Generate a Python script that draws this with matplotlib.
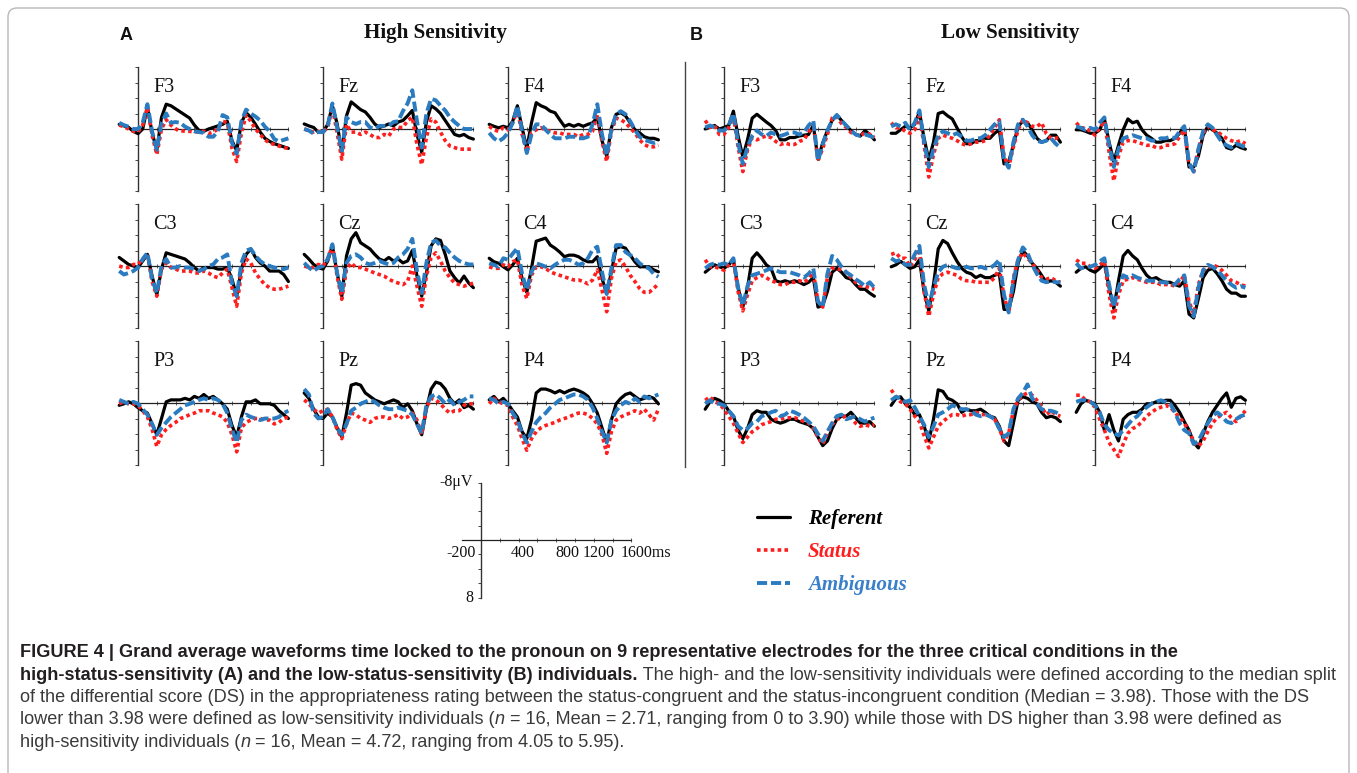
import matplotlib
matplotlib.use('Agg')
import matplotlib.pyplot as plt
from matplotlib.patches import FancyBboxPatch
from matplotlib.lines import Line2D
from matplotlib.transforms import IdentityTransform
from matplotlib.font_manager import FontProperties

W, H = 1357, 773
fig = plt.figure(figsize=(W / 100, H / 100), dpi=100)

# ---------------- data (µV, negative plotted upward) ----------------
TIMES = list(range(-200, 1601, 50))

A_F3_REF = [-0.6,-0.4,-0.2,0.3,0.6, 0.0,-2.8,0.5,2.7,-1.5, -3.2,-3.0,-2.6,-2.2,-1.8, -1.4,-0.5,0.2,0.3,0.0, -0.2,-0.4,-0.6,-1.0,1.5, 2.8,-0.8,-2.1,-1.5,-0.6, 0.4,1.2,1.6,1.9,2.1, 2.3,2.5]
A_F3_STA = [-0.5,-0.3,0.0,0.3,0.4, -0.5,-2.8,0.8,3.3,0.0, -1.2,-0.5,0.0,0.2,0.3, 0.3,0.4,0.3,0.3,0.6, 0.4,0.0,-1.0,-0.8,2.5, 4.2,0.5,-1.8,-1.0,0.0, 0.7,1.4,1.8,2.0,2.2, 2.4,2.5]
A_F3_AMB = [-0.8,-0.5,-0.3,0.0,0.0, -0.8,-3.2,0.3,2.7,-0.8, -2.0,-0.8,-0.9,-0.8,-0.3, 0.0,0.3,0.4,0.5,1.0, 1.0,0.3,-1.8,-1.5,1.8, 3.2,-1.0,-2.5,-2.0,-1.6, -1.1,-0.3,0.3,1.3,1.6, 1.4,1.2]

A_FZ_REF = [-0.65,-0.4,-0.2,0.4,0.4, -0.6,-3.0,-0.7,3.0,-1.7, -3.5,-3.0,-2.5,-2.2,-1.5, -0.65,-0.2,-0.4,-0.65,-0.4, -0.9,-1.1,-1.7,-2.4,0.7, 3.0,-0.9,-3.0,-2.6,-2.0, -1.1,-0.2,0.7,0.9,0.7, 1.1,1.3]
A_FZ_STA = [0.0,0.2,0.4,0.3,0.4, -0.2,-2.8,0.5,3.9,-0.6, 0.4,0.4,0.7,0.4,0.7, 1.1,1.1,0.7,0.9,0.0, -0.2,-0.2,-1.1,-1.5,2.0, 4.6,1.1,-1.3,-0.9,0.4, 1.5,2.2,2.4,2.6,2.6, 2.6,2.6]
A_FZ_AMB = [0.0,0.2,0.6,0.4,0.4, -0.4,-3.3,-0.2,2.8,-1.5, -0.9,-0.65,-0.9,-0.9,-0.2, 0.0,-0.4,-0.4,-0.4,-0.9, -1.0,-2.3,-3.3,-5.0,-1.0, 2.4,-2.0,-3.9,-3.7,-3.0, -2.4,-1.5,-0.9,-0.4,0.0, 0.0,0.0]

A_F4_REF = [-0.6,-0.35,-0.15,-0.35,-0.15, -1.0,-3.0,-0.15,2.5,-0.8, -3.4,-3.0,-2.75,-2.3,-2.1, -1.2,-0.35,-0.6,-0.35,-0.6, -0.35,-0.6,-0.8,-1.5,1.5, 3.5,-0.15,-1.9,-2.1,-1.7, -0.8,0.1,0.5,1.0,1.2, 1.2,1.4]
A_F4_STA = [-0.35,0.1,0.3,-0.15,0.1, -0.8,-2.5,0.7,2.9,0.5, 0.1,-0.15,0.1,0.3,0.5, 0.5,0.7,0.7,0.7,1.0, 0.7,0.7,0.3,-1.9,1.6, 4.2,0.3,-1.4,-1.2,-0.8, -0.15,0.5,1.4,2.0,2.3, 2.3,2.1]
A_F4_AMB = [0.5,1.2,1.6,1.2,0.5, -0.8,-3.0,0.3,3.1,0.7, -0.6,-0.6,0.1,0.7,1.2, 1.2,1.2,1.0,1.0,1.2, 1.2,1.0,-0.6,-3.2,0.7, 3.4,0.1,-1.9,-2.3,-1.9, -1.0,0.1,1.0,1.4,1.6, 1.8,1.6]

A_C3_REF = [-1.1,-0.65,-0.2,0.0,0.2, -0.65,-1.5,1.3,3.7,0.4, -1.7,-1.5,-1.3,-1.1,-0.9, -0.4,0.2,0.65,0.2,0.2, 0.2,0.4,0.4,0.2,1.7, 3.9,0.4,-1.5,-2.2,-1.1, -0.4,0.0,0.65,0.65,0.65, 1.1,2.0]
A_C3_STA = [0.0,0.2,0.2,-0.2,-0.2, -0.9,-1.5,2.0,3.9,0.4, -0.4,0.2,0.4,0.65,0.65, 0.65,0.9,0.9,0.65,0.9, 1.3,1.5,0.9,0.4,2.8, 5.2,0.9,-0.9,-0.4,0.9, 1.7,2.4,2.8,3.0,3.0, 2.8,2.6]
A_C3_AMB = [0.65,1.1,0.9,0.65,0.2, -0.9,-1.7,1.7,3.5,0.0, -0.9,0.2,0.2,0.0,0.2, 0.2,0.4,0.65,0.4,0.0, -0.2,-0.9,-1.1,-1.5,2.2, 3.9,-0.4,-2.0,-2.2,-1.3, -0.65,-0.2,0.0,0.2,0.4, 0.4,0.2]

A_CZ_REF = [-1.5,-0.9,-0.2,0.2,0.4, -0.65,-2.6,0.9,3.9,-1.3, -3.5,-4.3,-3.0,-2.6,-2.2, -1.5,-0.9,-0.65,-1.1,-0.65, -0.9,-0.4,-0.65,-2.0,1.3, 3.9,0.9,-2.6,-3.5,-3.3, -1.5,0.65,1.5,2.2,1.3, 2.2,2.8]
A_CZ_STA = [0.0,0.2,0.2,-0.2,0.0, -0.9,-2.6,1.3,4.3,0.4, -0.4,0.2,0.2,0.4,0.65, 0.9,1.1,1.3,1.7,2.0, 2.2,2.4,2.0,0.0,2.6, 5.2,1.3,-1.1,-1.7,-0.65, 0.65,1.5,2.2,2.4,2.6, 2.4,2.2]
A_CZ_AMB = [-0.4,0.2,0.65,0.2,0.0, -0.9,-2.8,0.9,3.5,-0.4, -1.3,-1.5,-1.1,-0.4,-0.2, -0.4,-0.65,-0.4,-0.2,-0.4, -1.1,-1.5,-2.2,-3.5,0.65, 3.5,-0.4,-3.0,-3.3,-2.6, -2.4,-1.7,-1.1,-0.65,-0.4, -0.2,-0.2]

A_C4_REF = [-1.0,-0.55,-0.35,0.1,0.5, -0.15,-1.0,1.6,3.4,0.3, -3.2,-3.4,-3.6,-2.7,-2.3, -1.8,-1.2,-1.4,-1.4,-1.2, -0.8,-0.55,-0.55,-1.2,1.6, 3.6,0.75,-2.3,-2.5,-2.3, -1.4,-0.55,0.1,0.1,0.1, 0.5,0.75]
A_C4_STA = [0.1,0.3,0.3,-0.15,0.1, -0.55,-0.8,2.5,4.2,1.2, 0.1,0.1,0.3,0.75,1.0, 1.2,1.4,1.6,1.8,1.8, 2.0,2.3,1.8,0.5,3.1, 5.9,1.6,-0.55,-0.8,0.1, 1.2,2.0,2.9,3.4,3.4, 2.9,2.3]
A_C4_AMB = [-0.35,-0.15,0.1,-1.0,-0.8, -1.6,-2.3,1.0,3.1,0.75, -0.35,-0.15,0.1,0.3,-0.15, -0.55,-0.8,-0.8,-0.55,-0.15, -0.35,-1.0,-2.1,-2.5,0.75, 3.6,0.3,-2.7,-2.7,-1.8, -1.4,-1.0,-0.35,0.1,0.3, 1.0,1.4]

A_P3_REF = [0.3,0.1,-0.15,0.1,0.6, 1.0,1.3,2.7,4.1,2.0, -0.15,-0.4,-0.4,-0.4,-0.6, -0.4,-0.85,-0.6,-1.1,-0.6, -0.85,-0.4,0.1,0.8,2.9, 4.4,1.8,-0.15,-0.15,-0.4, 0.1,0.1,0.1,0.3,1.0, 1.5,2.0]
A_P3_STA = [0.1,-0.15,0.1,0.1,0.3, 1.0,1.8,3.4,5.6,4.1, 3.4,2.9,2.5,2.0,1.8, 1.5,1.3,1.0,1.0,1.0, 1.3,1.5,1.8,2.5,4.1, 6.3,3.2,2.5,2.2,2.0, 2.0,2.2,2.2,2.7,2.5, 2.0,1.8]
A_P3_AMB = [-0.4,-0.15,0.1,-0.15,0.1, 0.8,1.5,2.7,4.1,3.2, 2.5,1.8,1.3,0.8,0.3, 0.1,-0.15,-0.4,-0.6,-0.4, -0.6,-0.4,0.1,1.3,3.4, 5.1,2.2,1.5,1.8,2.0, 2.2,2.0,2.0,2.0,1.8, 1.3,1.0]

A_PZ_REF = [-1.3,-0.6,0.8,1.8,2.0, 1.3,1.8,3.2,4.4,1.3, -2.3,-2.5,-2.3,-1.3,-0.85, -0.4,-0.15,0.1,-0.15,-0.4, -0.15,0.6,0.1,1.0,2.7, 4.1,0.8,-1.8,-2.7,-2.5, -1.8,-0.6,0.1,-0.4,0.6, 0.3,0.8]
A_PZ_STA = [-0.4,0.1,0.8,1.3,1.0, 0.8,1.8,3.4,4.6,2.7, 1.3,1.5,2.0,2.2,2.5, 2.0,1.8,1.8,2.0,1.8, 1.5,2.0,1.8,1.3,2.2, 4.1,0.6,-0.6,-0.4,0.1, 0.8,1.3,1.0,1.0,0.3, 0.1,0.1]
A_PZ_AMB = [-1.8,-1.1,1.3,2.0,1.8, 0.8,1.8,3.2,4.1,2.7, 1.0,0.6,0.1,-0.15,-0.4, -0.15,0.3,0.6,0.8,0.8, 0.6,0.8,1.0,1.5,2.7, 3.9,0.3,-0.85,-1.1,-0.6, 0.1,-0.4,0.3,-0.15,-0.4, -0.85,-0.85]

A_P4_REF = [-0.4,-0.85,-0.15,-0.6,0.1, 1.0,1.8,3.7,4.6,2.2, -1.3,-1.8,-1.8,-1.6,-1.3, -1.6,-1.3,-1.6,-1.8,-1.6, -1.3,-0.85,0.1,1.3,3.2, 5.1,2.2,0.1,-0.6,-1.1, -1.3,-0.85,-0.4,-0.6,-0.85, -0.6,0.1]
A_P4_STA = [0.1,-0.6,-0.15,0.1,0.3, 1.8,2.9,4.6,6.1,4.6, 3.7,3.2,2.9,2.7,2.5, 2.2,2.0,1.8,1.5,1.3, 1.3,1.5,2.0,2.7,4.1, 6.5,3.7,2.2,1.8,1.5, 1.3,1.0,1.3,0.8,1.5, 2.2,0.8]
A_P4_AMB = [-0.6,-0.4,0.1,-0.15,0.1, 1.3,2.2,3.9,5.1,3.7, 2.5,1.8,1.3,0.6,0.1, -0.4,-0.6,-0.85,-1.1,-1.1, -0.85,-0.4,0.6,2.0,3.7, 5.1,2.2,1.0,0.3,-0.15, 0.1,-0.6,-0.15,-0.85,-0.6, -0.85,-1.1]

B_F3_REF = [0.0,-0.2,-0.45,0.0,-0.2, -0.45,-2.3,0.9,3.6,1.4, -1.4,-1.9,-1.4,-0.9,-0.45, 0.2,1.4,1.4,1.1,1.1, 0.9,0.8,0.7,-0.5,3.9, 1.8,0.2,-1.1,-1.8,-1.1, -0.45,0.2,0.7,0.9,0.2, 0.7,1.4]
B_F3_STA = [-1.1,-0.2,-0.45,0.7,0.7, -0.2,-1.6,2.3,5.5,2.7, 1.1,1.4,1.1,0.9,1.1, 1.6,2.0,1.8,2.0,2.0, 1.6,1.4,0.45,-0.7,4.1, 2.5,0.7,-1.4,-1.6,-0.7, -0.2,0.45,0.7,0.9,0.45, 0.7,1.1]
B_F3_AMB = [-0.2,-0.45,-0.2,0.2,0.2, -0.45,-2.0,1.8,4.5,2.3, 0.9,0.2,0.7,0.9,0.45, 0.7,0.9,0.7,0.45,0.45, 0.7,0.45,-0.45,-1.1,4.1, 2.0,0.2,-1.1,-1.8,-1.1, -0.45,0.2,0.7,0.9,0.7, 0.9,1.1]

B_FZ_REF = [0.55,0.55,0.1,-0.35,-0.15, -0.6,-2.2,1.2,4.0,1.7, -2.0,-2.2,-1.7,-1.3,-0.15, 1.0,1.9,1.9,1.5,1.5, 1.2,1.2,0.55,0.1,4.5, 4.2,2.1,-0.35,-1.0,-0.8, 0.1,1.2,1.7,1.5,0.8, 0.8,1.7]
B_FZ_STA = [-0.8,-0.15,-0.15,0.3,0.55, 0.1,-1.7,2.1,6.2,3.3, 1.2,0.8,1.0,1.2,1.5, 1.9,2.1,1.9,1.7,1.7, 1.5,0.8,-0.15,-1.2,3.5, 4.9,2.3,0.1,-1.2,-0.8, -0.35,-0.3,-0.8,0.6,1.2, 1.2,1.0]
B_FZ_AMB = [-0.35,-0.6,-0.35,-0.8,0.1, -0.8,-2.4,1.7,4.9,2.6, 0.8,0.3,0.55,0.8,0.55, 1.0,1.5,1.5,1.2,1.2, 0.8,0.1,-0.6,-1.0,3.9, 5.0,1.7,-0.6,-1.2,-0.35, 0.8,1.5,1.7,1.5,1.2, 1.9,2.4]

B_F4_REF = [0.1,0.1,0.3,0.55,0.55, 0.1,-1.3,1.7,4.2,2.1, 0.1,-1.3,-0.8,-1.0,0.1, 0.8,1.2,1.7,1.7,1.5, 1.5,1.2,0.55,-0.35,4.9, 4.9,3.5,0.8,-0.35,0.1, 0.55,1.2,2.4,2.6,2.1, 2.4,2.6]
B_F4_STA = [-0.8,-0.15,-0.15,0.3,0.8, -0.15,-1.0,3.0,6.7,3.5, 1.7,1.5,1.5,1.7,1.9, 2.1,2.1,2.4,2.4,2.1, 2.1,1.9,1.0,0.1,4.4, 5.5,2.6,0.55,-0.35,0.1, 0.3,0.8,1.2,1.5,1.7, 1.5,1.9]
B_F4_AMB = [-0.35,-0.15,0.1,-0.15,0.1, -0.8,-1.5,2.1,4.9,2.6, 1.2,1.0,0.8,1.0,1.2, 1.2,1.5,1.5,1.2,1.2, 1.0,1.2,0.3,-0.35,4.4, 5.5,2.6,0.3,-0.6,-0.15, 0.8,1.7,2.1,2.4,1.9, 2.1,2.4]

B_C3_REF = [0.8,0.3,-0.15,0.1,0.3, -0.15,-0.8,2.8,5.3,2.8, -1.0,-1.7,-1.0,-0.15,0.3, 1.9,2.1,1.9,2.1,1.9, 2.1,2.4,2.1,1.5,5.3, 5.1,3.3,0.8,0.3,0.8, 1.5,1.7,2.4,3.0,3.0, 3.5,3.9]
B_C3_STA = [-0.8,0.1,0.1,0.3,0.55, -0.15,-0.8,3.3,5.8,3.7, 1.9,1.5,1.2,1.5,1.9, 2.1,2.4,2.4,2.1,2.1, 1.9,2.1,1.7,0.8,4.6, 5.3,1.5,0.3,0.3,0.55, 0.8,1.5,2.1,2.6,2.6, 2.8,3.0]
B_C3_AMB = [0.3,-0.15,-0.35,-0.15,-0.35, -0.15,-1.0,2.8,5.1,2.6, 1.2,1.0,0.8,0.55,0.3, 0.55,0.8,0.8,0.8,1.0, 1.2,1.5,1.0,0.3,4.6, 5.3,1.0,-1.3,-0.8,0.1, 0.8,1.2,1.7,2.1,2.6, 2.1,2.8]

B_CZ_REF = [0.1,-0.15,-0.6,-0.15,0.3, 0.1,-0.8,3.3,5.8,2.4, -2.2,-3.3,-2.9,-1.7,-0.6, 0.3,0.8,1.0,1.5,1.2, 1.5,1.5,1.2,1.0,5.6, 5.6,3.3,-0.35,-2.0,-1.3, -0.35,0.3,1.2,2.1,1.9, 2.1,2.6]
B_CZ_STA = [-1.5,-1.7,-1.0,-1.0,0.1, -0.8,-2.2,3.3,6.5,3.7, 1.5,1.0,0.8,1.0,1.2, 1.7,1.9,1.9,2.1,2.1, 2.1,2.1,1.5,0.3,3.9, 6.0,1.5,-0.8,-1.7,-1.0, -0.35,0.55,1.5,1.7,1.5, 1.9,2.1]
B_CZ_AMB = [-1.0,-0.6,-0.8,-0.15,-0.15, -1.5,-2.6,2.4,5.1,2.8, 0.8,0.1,-0.15,0.1,0.3, 0.3,0.1,0.3,0.3,0.1, 0.3,0.3,-0.15,-0.8,3.7, 6.0,1.9,-0.8,-2.4,-1.7, -0.15,1.0,1.9,2.1,1.9, 2.1,2.1]

B_C4_REF = [0.8,0.3,0.1,0.55,0.8, 0.3,-0.35,2.8,5.5,1.9, -1.3,-2.0,-1.3,-0.8,0.3, 1.2,1.7,1.5,1.9,2.1, 2.1,2.4,2.6,1.9,6.2, 6.7,4.2,1.5,0.55,0.3, 1.0,1.9,3.0,3.5,3.5, 3.9,3.9]
B_C4_STA = [-0.8,-0.35,-0.35,0.1,0.3, -0.15,-0.6,3.7,6.7,3.7, 1.9,1.7,1.5,1.7,1.9, 2.1,2.1,2.1,2.4,2.4, 2.4,2.6,2.1,1.2,4.6, 6.2,2.4,0.55,0.3,-0.15, 0.1,0.55,1.2,1.9,2.1, 2.4,2.6]
B_C4_AMB = [-0.35,0.3,0.1,0.1,-0.15, -0.6,-1.0,2.4,5.3,2.8, 1.2,1.5,1.2,1.5,1.7, 1.9,1.9,1.9,2.1,2.1, 2.4,2.4,1.7,1.2,5.1, 6.5,2.8,0.55,-0.15,0.1, 0.55,1.2,1.9,2.4,2.8, 2.6,2.8]

B_P3_REF = [0.8,-0.15,-0.6,-0.35,0.1, 1.0,1.7,3.5,4.6,3.3, 1.5,1.0,1.2,1.2,2.1, 2.4,2.6,2.4,2.1,2.1, 2.4,2.6,2.8,3.3,4.4, 5.5,4.9,3.3,2.1,1.7, 1.7,1.2,1.9,2.6,2.6, 2.4,3.0]
B_P3_STA = [-0.35,-0.8,-0.15,0.1,0.8, 1.7,2.6,3.9,5.1,4.4, 3.7,3.3,2.8,2.6,2.4, 2.1,2.1,1.9,1.9,1.9, 2.1,2.4,2.6,3.3,4.4, 5.3,3.9,2.8,2.1,1.9, 1.7,1.9,2.6,3.0,2.8, 3.0,2.8]
B_P3_AMB = [0.1,-0.35,0.1,0.1,0.3, 1.0,1.7,3.0,3.5,3.3, 2.6,2.4,1.7,1.5,1.2, 1.0,1.7,1.5,1.0,1.2, 1.5,1.9,2.4,3.0,4.0, 4.9,3.7,2.6,1.7,1.5, 2.1,1.9,1.7,2.1,2.4, 2.1,1.9]

B_PZ_REF = [0.3,-0.6,-0.8,0.1,0.55, 1.5,1.5,3.0,4.9,2.1, -1.7,-1.5,-0.6,-0.35,0.1, 1.2,0.8,1.0,1.0,0.8, 1.2,1.7,1.9,3.0,4.9, 5.5,2.6,-0.35,-0.8,-0.6, -0.15,0.1,1.2,1.9,1.7, 1.9,2.4]
B_PZ_STA = [-1.7,-0.8,-0.15,0.1,0.8, 1.7,2.4,4.2,5.8,4.4, 3.0,2.4,1.9,1.5,1.5, 1.7,1.5,1.5,1.2,1.5, 1.5,1.7,2.1,3.3,4.9, 3.9,1.0,-0.35,-1.0,-1.3, -1.0,-0.35,0.55,1.5,1.0, 1.5,1.7]
B_PZ_AMB = [-0.35,-0.8,-0.6,-0.15,-0.35, 0.55,1.7,2.8,4.4,3.0, 1.5,1.2,0.8,0.3,0.55, 0.8,0.8,1.0,1.5,1.7, 1.5,1.7,2.1,3.3,4.4, 3.9,0.8,-0.6,-1.3,-2.4, -0.6,0.1,0.8,1.0,1.0, 1.2,1.5]

B_P4_REF = [1.2,0.1,-0.35,-0.15,0.1, 1.2,3.5,1.5,3.5,4.9, 2.1,1.5,1.2,1.2,0.8, 0.1,0.1,-0.15,-0.15,-0.35, -0.35,0.3,1.2,2.4,3.5, 5.1,5.8,4.0,2.4,1.2, 0.3,-0.6,-1.3,0.55,-0.6, -0.8,-0.35]
B_P4_STA = [-1.0,-1.0,-0.35,-0.15,0.55, 2.1,3.5,5.1,6.0,6.9, 5.3,3.9,3.3,3.0,2.4, 1.7,1.2,0.8,0.55,0.3, 0.55,1.2,1.9,2.6,3.7, 4.9,5.6,4.9,3.7,2.6, 1.9,1.5,1.2,1.9,2.4, 1.7,1.0]
B_P4_AMB = [-0.15,-0.35,-0.35,-0.15,0.3, 1.2,2.8,3.5,3.9,4.2, 3.5,2.8,2.1,1.7,1.0, 0.55,0.1,-0.15,-0.35,-0.15, 0.1,1.2,2.6,3.5,3.9, 5.3,4.9,3.7,2.6,1.7, 1.2,1.7,2.4,2.6,2.1, 1.7,1.5]

ELECTRODES = [["F3", "Fz", "F4"], ["C3", "Cz", "C4"], ["P3", "Pz", "P4"]]
CONDITIONS = ["Referent", "Status", "Ambiguous"]
SCALE_YTICKS = [-8, -6, -4, -2, 0, 2, 4, 6, 8]
SCALE_XTICKS = [0, 200, 400, 600, 800, 1000, 1200, 1400, 1600]
SCALE_XLABELS = ["400", "800", "1200", "1600ms"]
SCALE_XLABEL_POS = [440, 920, 1255]

DATA = {
    "A": {
        "F3": (A_F3_REF, A_F3_STA, A_F3_AMB), "Fz": (A_FZ_REF, A_FZ_STA, A_FZ_AMB), "F4": (A_F4_REF, A_F4_STA, A_F4_AMB),
        "C3": (A_C3_REF, A_C3_STA, A_C3_AMB), "Cz": (A_CZ_REF, A_CZ_STA, A_CZ_AMB), "C4": (A_C4_REF, A_C4_STA, A_C4_AMB),
        "P3": (A_P3_REF, A_P3_STA, A_P3_AMB), "Pz": (A_PZ_REF, A_PZ_STA, A_PZ_AMB), "P4": (A_P4_REF, A_P4_STA, A_P4_AMB),
    },
    "B": {
        "F3": (B_F3_REF, B_F3_STA, B_F3_AMB), "Fz": (B_FZ_REF, B_FZ_STA, B_FZ_AMB), "F4": (B_F4_REF, B_F4_STA, B_F4_AMB),
        "C3": (B_C3_REF, B_C3_STA, B_C3_AMB), "Cz": (B_CZ_REF, B_CZ_STA, B_CZ_AMB), "C4": (B_C4_REF, B_C4_STA, B_C4_AMB),
        "P3": (B_P3_REF, B_P3_STA, B_P3_AMB), "Pz": (B_PZ_REF, B_PZ_STA, B_PZ_AMB), "P4": (B_P4_REF, B_P4_STA, B_P4_AMB),
    },
}

# ---------------- styling / layout ----------------
SERIF = ["Liberation Serif", "DejaVu Serif"]
SANS = ["Liberation Sans", "DejaVu Sans"]
C_REF, C_STA, C_AMB = "#000000", "#ff1e1e", "#2a7bc0"
PX_PER_MS = 0.094
HALF = 62
COL_X = {"A": [138, 323, 508], "B": [724, 910, 1095]}
ROW_Y = [129, 266, 403]


def make_axes(x0, yb, half):
    left = (x0 - 200 * PX_PER_MS) / W
    width = 1800 * PX_PER_MS / W
    bottom = (H - (yb + half)) / H
    height = 2 * half / H
    ax = fig.add_axes([left, bottom, width, height])
    ax.set_xlim(-200, 1600)
    ax.set_ylim(8, -8)
    ax.patch.set_alpha(0)
    for s in ("top", "right"):
        ax.spines[s].set_visible(False)
    ax.spines["left"].set_position(("data", 0))
    ax.spines["bottom"].set_position(("data", 0))
    ax.spines["left"].set_color("#333333")
    ax.spines["left"].set_linewidth(1.0)
    ax.spines["bottom"].set_color("#222222")
    ax.spines["bottom"].set_linewidth(0.9)
    ax.set_yticks(SCALE_YTICKS)
    ax.set_xticks(SCALE_XTICKS)
    ax.tick_params(axis="y", direction="out", length=2.5, width=0.7, colors="#444444",
                   labelleft=False)
    ax.tick_params(axis="x", direction="inout", length=2.5, width=0.6, colors="#444444",
                   labelbottom=False)
    return ax


legend_handles = None
for panel in ("A", "B"):
    for r, row in enumerate(ELECTRODES):
        for c, name in enumerate(row):
            ax = make_axes(COL_X[panel][c], ROW_Y[r], HALF)
            ax.spines["bottom"].set_bounds(0, 1600)
            ref, sta, amb = DATA[panel][name]
            l1, = ax.plot(TIMES, ref, color=C_REF, lw=2.3, solid_joinstyle="round",
                          solid_capstyle="round", clip_on=False, zorder=3)
            l2, = ax.plot(TIMES, sta, color=C_STA, lw=2.6, linestyle=(0, (1.0, 0.9)),
                          dash_joinstyle="round", clip_on=False, zorder=4)
            l3, = ax.plot(TIMES, amb, color=C_AMB, lw=2.8, linestyle=(0, (2.6, 1.0)),
                          dash_joinstyle="round", clip_on=False, zorder=5)
            if legend_handles is None:
                legend_handles = [l1, l2, l3]
            ax.text(160, -4.8, name, family=SERIF, fontsize=14.5, va="baseline",
                    ha="left", color="#111111")

# scale bar axes
sax = make_axes(481, 540, 57.5)
sax.spines["bottom"].set_bounds(-200, 1600)
txt_kw = dict(family=SERIF, fontsize=11.5, color="#111111")
sax.text(-85, -8, "-8\u03bcV", ha="right", va="center", **txt_kw)
sax.text(-85, 8, "8", ha="right", va="center", **txt_kw)
sax.text(-60, 1.8, "-200", ha="right", va="center", **txt_kw)
for lab, pos in zip(SCALE_XLABELS[:3], SCALE_XLABEL_POS):
    sax.text(pos, 1.8, lab, ha="center", va="center", **txt_kw)
sax.text(1490, 1.8, SCALE_XLABELS[3], ha="left", va="center", **txt_kw)

# legend
leg = fig.legend(legend_handles, CONDITIONS, loc="upper left",
                 bbox_to_anchor=(757 / W, 1 - 509 / H), frameon=False,
                 prop=FontProperties(family=SERIF, weight="bold", style="italic", size=15),
                 handlelength=1.6, handletextpad=0.85, labelspacing=0.62,
                 borderpad=0, borderaxespad=0)
for t, col in zip(leg.get_texts(), ["#000000", "#ff1e1e", "#3a7fc9"]):
    t.set_color(col)

# titles and panel letters
fig.text(436 / W, 1 - 33 / H, "High Sensitivity", ha="center", va="center",
         family=SERIF, weight="bold", fontsize=15.2, color="#111111")
fig.text(1010 / W, 1 - 33 / H, "Low Sensitivity", ha="center", va="center",
         family=SERIF, weight="bold", fontsize=15.2, color="#111111")
fig.text(120 / W, 1 - 35 / H, "A", ha="left", va="center", family=SANS,
         weight="bold", fontsize=13, color="#111111")
fig.text(690 / W, 1 - 35 / H, "B", ha="left", va="center", family=SANS,
         weight="bold", fontsize=13, color="#111111")

# divider between panels
fig.add_artist(Line2D([685 / W, 685 / W], [1 - 62 / H, 1 - 467 / H],
                      color="#444444", lw=1.0))

# rounded border
border = FancyBboxPatch((8, -30), 1341, H - 8 + 30,
                        boxstyle="round,pad=0,rounding_size=9",
                        transform=IdentityTransform(), fill=False,
                        ec="#b8b8b8", lw=1.0)
fig.add_artist(border)

# caption
renderer = fig.canvas.get_renderer()
BOLD = dict(family=SANS, weight="bold", color="#231f20")
REG = dict(family=SANS, color="#3a3a3a")
ITA = dict(family=SANS, style="italic", color="#3a3a3a")

CAPTION = [
    [("FIGURE 4 | Grand average waveforms time locked to the pronoun on 9 representative electrodes for the three critical conditions in the", BOLD)],
    [("high-status-sensitivity (A) and the low-status-sensitivity (B) individuals.", BOLD),
     (" The high- and the low-sensitivity individuals were defined according to the median split", REG)],
    [("of the differential score (DS) in the appropriateness rating between the status-congruent and the status-incongruent condition (Median = 3.98). Those with the DS", REG)],
    [("lower than 3.98 were defined as low-sensitivity individuals (", REG), ("n", ITA),
     (" = 16, Mean = 2.71, ranging from 0 to 3.90) while those with DS higher than 3.98 were defined as", REG)],
    [("high-sensitivity individuals (", REG), ("n", ITA),
     (" = 16, Mean = 4.72, ranging from 4.05 to 5.95).", REG)],
]
CAP_BASE = [657, 679.5, 702, 724.5, 747]
CAP_X = 20


def text_width(s, size, style):
    t = fig.text(0, 0, "." + s + ".", fontsize=size, **style)
    d = fig.text(0, 0, "..", fontsize=size, **style)
    w = t.get_window_extent(renderer).width - d.get_window_extent(renderer).width
    t.remove()
    d.remove()
    return w


def line_width(line, size):
    return sum(text_width(s, size, st) for s, st in line)


s3 = 12 * (1334 - CAP_X) / line_width(CAPTION[2], 12)
s2 = 12 * (1330 - CAP_X) / line_width(CAPTION[1], 12)
cap_size = min(s2, s3)

for line, yb in zip(CAPTION, CAP_BASE):
    x = CAP_X
    for s, style in line:
        fig.text(x / W, 1 - yb / H, s, fontsize=cap_size, va="baseline", ha="left", **style)
        x += text_width(s, cap_size, style)

fig.savefig("out.png", dpi=100)
